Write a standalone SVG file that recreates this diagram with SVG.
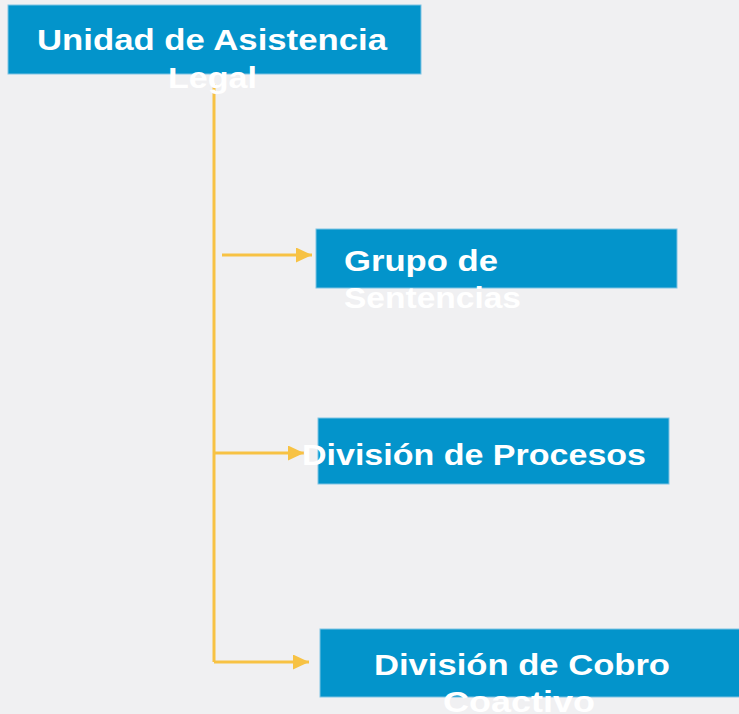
<svg xmlns="http://www.w3.org/2000/svg" width="739" height="714" viewBox="0 0 739 714">
<defs>
<style>
.box{fill:#0394cb;stroke:#7fc3e3;stroke-width:1}
.t{font-family:"Liberation Sans",Arial,sans-serif;font-weight:bold;font-size:29px;fill:#ffffff}
.c{fill:none;stroke:#f7c244;stroke-width:3}
</style>
<marker id="ah" markerWidth="16" markerHeight="15" refX="16" refY="7.5" orient="auto" markerUnits="userSpaceOnUse">
<path d="M0,0 L16,7.5 L0,15 Z" fill="#f7c244"/>
</marker>
</defs>
<rect width="739" height="714" fill="#f0f0f2"/>
<g id="connectors">
<path class="c" d="M214,84 V662"/>
<path class="c" d="M222,255 H312" marker-end="url(#ah)"/>
<path class="c" d="M214,453 H304" marker-end="url(#ah)"/>
<path class="c" d="M214,662 H309" marker-end="url(#ah)"/>
</g>
<g id="n1">
<rect class="box" x="8" y="5" width="413" height="69"/>
<text class="t" x="37" y="50" textLength="350" lengthAdjust="spacingAndGlyphs">Unidad de Asistencia</text>
<text class="t" x="168" y="88" textLength="89" lengthAdjust="spacingAndGlyphs">Legal</text>
</g>
<g id="n2">
<rect class="box" x="316" y="229" width="361" height="59"/>
<text class="t" x="344" y="271" textLength="154" lengthAdjust="spacingAndGlyphs">Grupo de</text>
<text class="t" x="344" y="308" textLength="177" lengthAdjust="spacingAndGlyphs">Sentencias</text>
</g>
<g id="n3">
<rect class="box" x="318" y="418" width="351" height="66"/>
<text class="t" x="302" y="465" textLength="344" lengthAdjust="spacingAndGlyphs">División de Procesos</text>
</g>
<g id="n4">
<rect class="box" x="320" y="629" width="425" height="68"/>
<text class="t" x="374" y="675" textLength="296" lengthAdjust="spacingAndGlyphs">División de Cobro</text>
<text class="t" x="443" y="712" textLength="152" lengthAdjust="spacingAndGlyphs">Coactivo</text>
</g>
</svg>
